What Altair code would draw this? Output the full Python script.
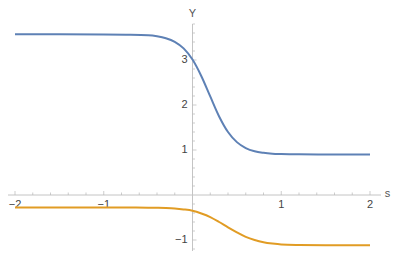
import altair as alt
import pandas as pd

# ---- data ----
s_vals = [-2.0, -1.5, -1.0, -0.75, -0.5, -0.4, -0.3, -0.2, -0.1, 0.0, 0.1, 0.2, 0.3,
          0.4, 0.5, 0.6, 0.7, 0.8, 0.9, 1.0, 1.2, 1.5, 2.0]
blue_vals = [3.57, 3.57, 3.568, 3.562, 3.549, 3.527, 3.485, 3.405, 3.258, 3.01, 2.64, 2.19,
             1.746, 1.40, 1.175, 1.044, 0.972, 0.938, 0.919, 0.911, 0.904, 0.902, 0.90]
orange_vals = [-0.28, -0.28, -0.28, -0.28, -0.282, -0.285, -0.29, -0.30, -0.32, -0.35,
               -0.41, -0.49, -0.60, -0.72, -0.83, -0.93, -1.00, -1.05, -1.08, -1.10,
               -1.11, -1.115, -1.115]

x_major = [-2, -1, 1, 2]
x_major_labels = ["−2", "−1", "1", "2"]
x_minor = [-1.8, -1.6, -1.4, -1.2, -0.8, -0.6, -0.4, -0.2, 0.2, 0.4, 0.6, 0.8,
           1.2, 1.4, 1.6, 1.8]
y_major = [-1, 1, 2, 3]
y_major_labels = ["−1", "1", "2", "3"]
y_minor = [-1.2, -0.8, -0.6, -0.4, -0.2, 0.2, 0.4, 0.6, 0.8, 1.2, 1.4, 1.6, 1.8,
           2.2, 2.4, 2.6, 2.8, 3.2, 3.4, 3.6, 3.8]

X_DOMAIN = [-2.0789, 2.2366]
Y_DOMAIN = [-1.2444, 4.1556]
X_AXIS_END = 2.124
Y_AXIS_TOP = 3.8

W, H = 383, 243
AXIS_COL = "#c4c4c4"
TICK_COL = "#b8b8b8"
LABEL_COL = "#444444"
FONT = "Liberation Sans"

xs = alt.Scale(domain=X_DOMAIN, nice=False, zero=False)
ys = alt.Scale(domain=Y_DOMAIN, nice=False, zero=False)

curves = pd.DataFrame({
    "s": s_vals * 2,
    "Y": blue_vals + orange_vals,
    "series": ["a"] * len(s_vals) + ["b"] * len(s_vals),
})

base = alt.Chart(curves)

x_axis_line = alt.Chart(pd.DataFrame({"x": [X_DOMAIN[0]], "x2": [X_AXIS_END], "y": [0]})).mark_rule(
    color=AXIS_COL, strokeWidth=1).encode(
    x=alt.X("x:Q", scale=xs, axis=None), x2="x2:Q", y=alt.Y("y:Q", scale=ys, axis=None))

y_axis_line = alt.Chart(pd.DataFrame({"y": [Y_DOMAIN[0]], "y2": [Y_AXIS_TOP], "x": [0]})).mark_rule(
    color=AXIS_COL, strokeWidth=1).encode(
    y=alt.Y("y:Q", scale=ys, axis=None), y2="y2:Q", x=alt.X("x:Q", scale=xs, axis=None))

xmaj = alt.Chart(pd.DataFrame({"x": x_major, "lab": x_major_labels, "y": [0] * len(x_major)}))
xmin = alt.Chart(pd.DataFrame({"x": x_minor, "y": [0] * len(x_minor)}))
ymaj = alt.Chart(pd.DataFrame({"y": y_major, "lab": y_major_labels, "x": [0] * len(y_major)}))
ymin = alt.Chart(pd.DataFrame({"y": y_minor, "x": [0] * len(y_minor)}))

enc_x = dict(x=alt.X("x:Q", scale=xs, axis=None), y=alt.Y("y:Q", scale=ys, axis=None))

x_major_ticks = xmaj.mark_tick(orient="vertical", size=4, thickness=1, yOffset=-2,
                               color=TICK_COL).encode(**enc_x)
x_minor_ticks = xmin.mark_tick(orient="vertical", size=2.5, thickness=1, yOffset=-1.25,
                               color=TICK_COL).encode(**enc_x)
y_major_ticks = ymaj.mark_tick(orient="horizontal", size=4, thickness=1, xOffset=2,
                               color=TICK_COL).encode(**enc_x)
y_minor_ticks = ymin.mark_tick(orient="horizontal", size=2.5, thickness=1, xOffset=1.25,
                               color=TICK_COL).encode(**enc_x)

x_labels = xmaj.mark_text(baseline="top", align="center", dy=4, font=FONT, fontSize=11,
                          color=LABEL_COL).encode(text="lab:N", **enc_x)
y_labels = ymaj.mark_text(baseline="middle", align="right", dx=-5, font=FONT, fontSize=11,
                          color=LABEL_COL).encode(text="lab:N", **enc_x)

s_title = alt.Chart(pd.DataFrame({"x": [2.165], "y": [0.02], "t": ["s"]})).mark_text(
    baseline="middle", align="left", font=FONT, fontSize=11, color="#555555").encode(
    text="t:N", **enc_x)
y_title = alt.Chart(pd.DataFrame({"x": [0], "y": [4.02], "t": ["Y"]})).mark_text(
    baseline="middle", align="center", font=FONT, fontSize=11, color="#555555").encode(
    text="t:N", **enc_x)

lines = base.mark_line(strokeWidth=2, interpolate="monotone").encode(
    x=alt.X("s:Q", scale=xs, axis=None),
    y=alt.Y("Y:Q", scale=ys, axis=None),
    color=alt.Color("series:N", scale=alt.Scale(domain=["a", "b"], range=["#5E81B5", "#E19C24"]),
                    legend=None),
)

chart = alt.layer(
    x_axis_line, y_axis_line, x_minor_ticks, x_major_ticks, y_minor_ticks, y_major_ticks,
    x_labels, y_labels, s_title, y_title, lines
).properties(
    width=W, height=H, padding=0, autosize=alt.AutoSizeParams(type="none")
).configure_view(stroke=None)

chart.save("out.html", embed_options={"renderer": "svg", "actions": False})
